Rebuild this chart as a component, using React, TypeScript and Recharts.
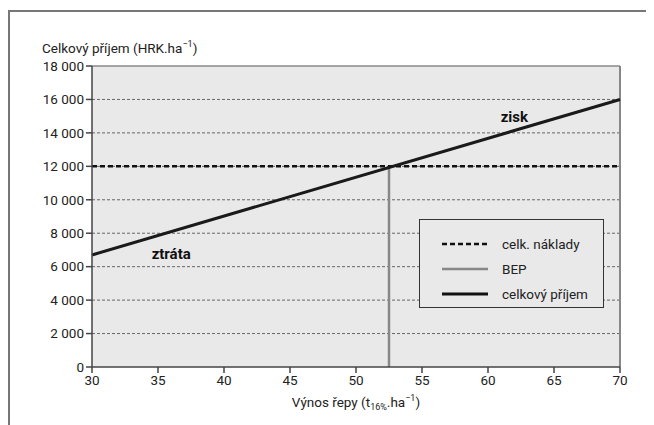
import React from 'react';
import { LineChart, Line, XAxis, YAxis, CartesianGrid, ReferenceLine, ReferenceDot } from 'recharts';

// yield (t/ha) vs total revenue (HRK/ha)
const yieldX = [30, 70];
const revenue = [6700, 16000];
const costLevel = 12000;
const bepYield = 52.5;
const xTicks = [30, 35, 40, 45, 50, 55, 60, 65, 70];
const yTicks = [0, 2000, 4000, 6000, 8000, 10000, 12000, 14000, 16000, 18000];
const legendNames = ['celk. náklady', 'BEP', 'celkový příjem'];

const revenueData = yieldX.map((x, i) => ({ x, y: revenue[i] }));
const costData = yieldX.map((x) => ({ x, y: costLevel }));
const bepData = [{ x: bepYield, y: 0 }, { x: bepYield, y: costLevel }];

const font = 'Roboto, "Liberation Sans", sans-serif';
const fmt = (v: number) => (v >= 1000 ? `${Math.floor(v / 1000)} ${String(v % 1000).padStart(3, '0')}` : String(v));

const LegendBox = () => {
    const samples = [
        { stroke: '#111', dash: '5 3', w: 2.5 },
        { stroke: '#888', dash: undefined, w: 2.5 },
        { stroke: '#111', dash: undefined, w: 3 },
    ];
    return (
        <div style={{ width: 185, height: 89, background: '#e9e9e9', border: '1.5px solid #333', boxSizing: 'border-box', paddingTop: 11 }}>
            {legendNames.map((n, i) => (
                <div key={n} style={{ display: 'flex', alignItems: 'center', height: 25, fontFamily: font, fontSize: 13.5, color: '#222' }}>
                    <svg width={46} height={10} style={{ marginLeft: 22, marginRight: 14 }}>
                        <line x1={0} x2={46} y1={5} y2={5} stroke={samples[i].stroke} strokeWidth={samples[i].w} strokeDasharray={samples[i].dash} />
                    </svg>
                    <span>{n}</span>
                </div>
            ))}
        </div>
    );
};

const App: React.FC = () => {
    return (
        <div style={{ position: 'relative', width: 646, height: 417 }}>
            <div style={{ position: 'absolute', left: 0, top: 2, width: 645, height: 420, borderTop: '2px solid #777', borderLeft: '2px solid #777', borderRight: '2px solid #777', boxSizing: 'border-box' }} />
            <div style={{ position: 'absolute', left: 34, top: 31, fontFamily: font, fontSize: 13.5, color: '#222' }}>
                Celkový příjem (HRK.ha<sup style={{ fontSize: 9 }}>−1</sup>)
            </div>
            <div style={{ position: 'absolute', left: 0, width: 696, top: 385, textAlign: 'center', fontFamily: font, fontSize: 13.5, color: '#222' }}>
                Výnos řepy (t<sub style={{ fontSize: 9 }}>16%</sub>.ha<sup style={{ fontSize: 9 }}>−1</sup>)
            </div>
            <div style={{ position: 'absolute', left: 0, top: 0 }}>
                <LineChart width={640} height={410} margin={{ top: 58, right: 28, bottom: 21, left: 24 }}>
                    <CartesianGrid vertical={false} fill="#e9e9e9" stroke="#666" strokeDasharray="3 2" horizontalValues={yTicks.slice(1, -1)} />
                    <XAxis
                        type="number"
                        dataKey="x"
                        domain={[30, 70]}
                        ticks={xTicks}
                        height={30}
                        stroke="#444"
                        strokeWidth={1.5}
                        tickSize={6}
                        tick={{ fill: '#222', fontSize: 13.5, fontFamily: font }}
                        allowDuplicatedCategory={false}
                    />
                    <YAxis
                        type="number"
                        domain={[0, 18000]}
                        ticks={yTicks}
                        width={60}
                        stroke="#444"
                        strokeWidth={1.5}
                        tickSize={6}
                        tickFormatter={fmt}
                        tick={{ fill: '#222', fontSize: 13.5, fontFamily: font }}
                    />
                    <ReferenceLine y={18000} stroke="#888" strokeWidth={1.5} />
                    <ReferenceLine x={70} stroke="#888" strokeWidth={2} />
                    <Line data={bepData} dataKey="y" stroke="#888" strokeWidth={2.5} dot={false} isAnimationActive={false} name="BEP" />
                    <Line data={costData} dataKey="y" stroke="#111" strokeWidth={2.5} strokeDasharray="5 3" dot={false} isAnimationActive={false} name="celk. náklady" />
                    <Line data={revenueData} dataKey="y" stroke="#1a1a1a" strokeWidth={3} dot={false} isAnimationActive={false} name="celkový příjem" />
                    <ReferenceDot x={62} y={14950} r={0} label={{ value: 'zisk', fill: '#111', fontSize: 15, fontWeight: 'bold', fontFamily: font }} />
                    <ReferenceDot x={36} y={6750} r={0} label={{ value: 'ztráta', fill: '#111', fontSize: 15, fontWeight: 'bold', fontFamily: font }} />
                </LineChart>
            </div>
            <div style={{ position: 'absolute', left: 411, top: 211 }}>
                <LegendBox />
            </div>
        </div>
    );
};

export default App;
